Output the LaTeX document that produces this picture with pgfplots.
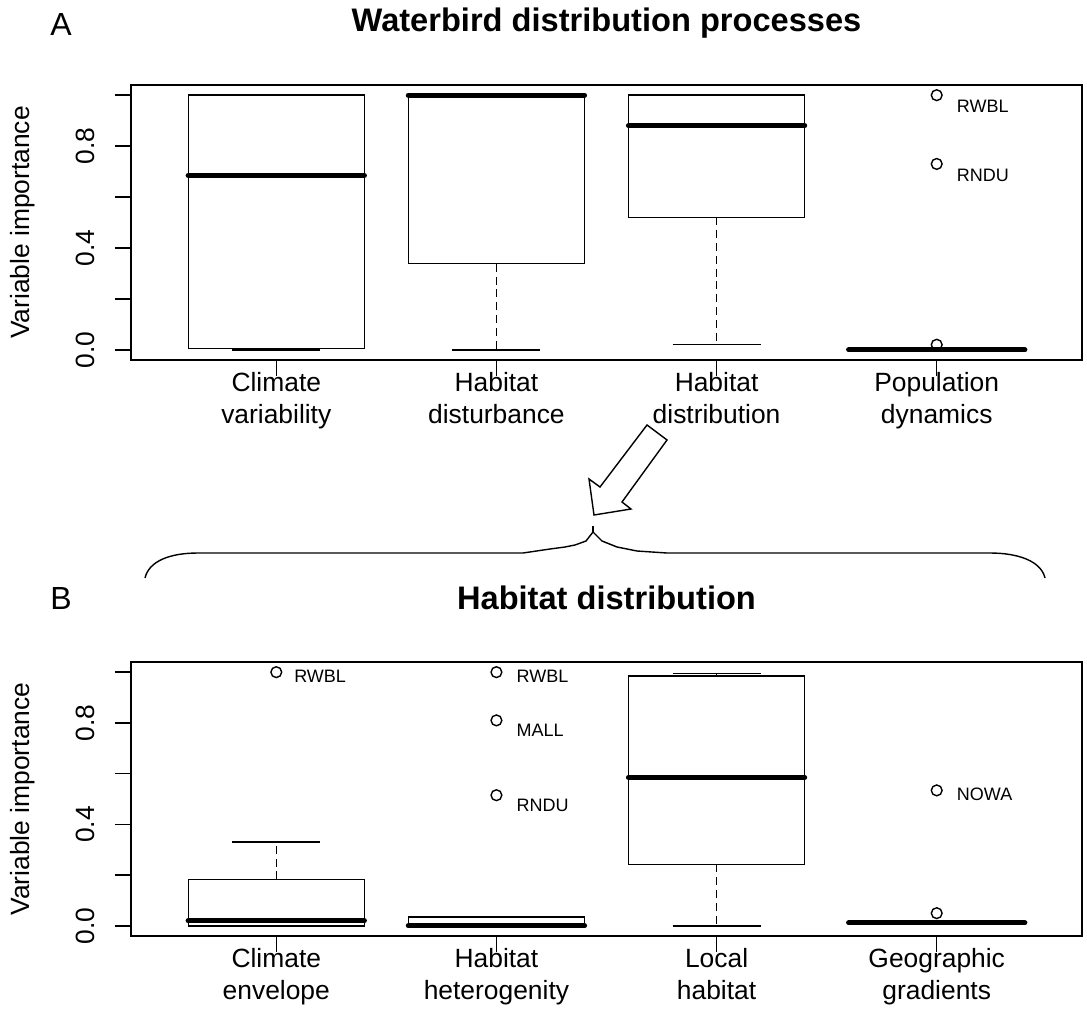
\documentclass[border=0pt]{standalone}
\usepackage{pgfplots}
\pgfplotsset{compat=1.18}
\usepgfplotslibrary{statistics}
\usepackage{fontspec}
\setmainfont{Liberation Sans}

\newcommand{\tickfont}{\fontsize{13.2}{16}\selectfont}
\newcommand{\outfont}{\fontsize{9}{10}\selectfont}

\pgfplotsset{
  rbox/.style={
    black, solid, line width=0.7pt,
    mark=o, mark size=2.7pt, mark options={solid, black, line width=0.7pt},
    boxplot/draw direction=y,
    boxplot/box extend=0.8,
    boxplot/whisker extend=0.4,
    boxplot/every median/.style={line width=2.6pt, line cap=round},
    boxplot/draw/lower whisker/.code={%
      \draw[black, line width=0.7pt, dash pattern=on 4pt off 2.4pt]
        (boxplot cs:\pgfplotsboxplotvalue{lower quartile}) --
        (boxplot cs:\pgfplotsboxplotvalue{lower whisker});
      \draw[black, line width=0.7pt]
        (boxplot whisker cs:\pgfplotsboxplotvalue{lower whisker},0) --
        (boxplot whisker cs:\pgfplotsboxplotvalue{lower whisker},1);
    },
    boxplot/draw/upper whisker/.code={%
      \draw[black, line width=0.7pt, dash pattern=on 4pt off 2.4pt]
        (boxplot cs:\pgfplotsboxplotvalue{upper quartile}) --
        (boxplot cs:\pgfplotsboxplotvalue{upper whisker});
      \draw[black, line width=0.7pt]
        (boxplot whisker cs:\pgfplotsboxplotvalue{upper whisker},0) --
        (boxplot whisker cs:\pgfplotsboxplotvalue{upper whisker},1);
    },
  },
  rpanel/.style={
    anchor=south west,
    scale only axis, width=475.5pt,
    xmin=0.34, xmax=4.66, ymin=-0.04, ymax=1.04,
    xtick={1,2,3,4},
    ytick={0,0.2,0.4,0.6,0.8,1.0},
    yticklabels={0.0,,0.4,,0.8,},
    tick align=outside, xtick pos=bottom, ytick pos=left,
    major tick length=8pt,
    tick style={black, line width=0.7pt},
    axis line style={black, line width=0.7pt},
    xticklabel style={font=\tickfont, align=center, anchor=north, inner sep=0pt, yshift=2pt},
    yticklabel style={font=\tickfont, xshift=-10pt, rotate=90, anchor=base, inner sep=0pt},
    ylabel={Variable importance},
    ylabel style={font=\tickfont, at={(axis description cs:-0.1136,0.5)}, anchor=center, rotate=0},
    clip=false,
  },
}

\begin{document}
\begin{tikzpicture}
\begin{scope}[x=0.5pt, y=-0.5pt]
  \path[use as bounding box] (0,0) rectangle (1087,1017);
  % panel letters and titles
  \node[anchor=base, inner sep=0pt, font=\fontsize{16}{18}\selectfont] at (61,35) {A};
  \node[anchor=base, inner sep=0pt, font=\fontsize{16.3}{18}\selectfont\bfseries] at (606.5,32) {Waterbird distribution processes};
  \node[anchor=base, inner sep=0pt, font=\fontsize{16}{18}\selectfont] at (61,609) {B};
  \node[anchor=base, inner sep=0pt, font=\fontsize{16.3}{18}\selectfont\bfseries] at (606.5,609) {Habitat distribution};
  % arrow
  \draw[line width=0.7pt, fill=white, line join=miter]
    (647,425) -- (600,487) -- (589,479) -- (594,515) -- (631,509) -- (622,502) -- (667,440) -- cycle;
  % brace
  \draw[line width=0.7pt]
    (145,578) .. controls (149,561) and (170,553) .. (198,553) -- (523,553)
    -- (550,549) -- (565,547) -- (575,545) -- (586,541) -- (593,532)
    -- (602,541) -- (617,547) -- (637,551) -- (667,553) -- (990,553)
    .. controls (1018,553) and (1041,561) .. (1045,578);
  \draw[line width=0.7pt] (593,526) -- (593,532);
\end{scope}

% Panel A
\begin{axis}[rpanel, at={(65.5pt,-180pt)}, height=137.5pt,
  xticklabels={{Climate\\variability},{Habitat\\disturbance},{Habitat\\distribution},{Population\\dynamics}}]
  \addplot[rbox, boxplot prepared={draw position=1, lower whisker=0, lower quartile=0.005, median=0.685, upper quartile=1.0, upper whisker=1.0}] coordinates {};
  \addplot[rbox, boxplot prepared={draw position=2, lower whisker=0, lower quartile=0.338, median=1.0, upper quartile=1.0, upper whisker=1.0}] coordinates {};
  \addplot[rbox, boxplot prepared={draw position=3, lower whisker=0.02, lower quartile=0.52, median=0.88, upper quartile=1.0, upper whisker=1.0}] coordinates {};
  \addplot[rbox, boxplot prepared={draw position=4, lower whisker=0, lower quartile=0, median=0, upper quartile=0, upper whisker=0}]
    table[row sep=\\, y index=0] {data\\ 1.0\\ 0.73\\ 0.02\\};
  \node[anchor=west, inner sep=0pt, font=\outfont, yshift=-5.5pt] at (axis cs:4.09,1.0) {RWBL};
  \node[anchor=west, inner sep=0pt, font=\outfont, yshift=-5.5pt] at (axis cs:4.09,0.73) {RNDU};
\end{axis}

% Panel B
\begin{axis}[rpanel, at={(65.5pt,-468pt)}, height=137pt,
  xticklabels={{Climate\\envelope},{Habitat\\heterogenity},{Local\\habitat},{Geographic\\gradients}}]
  \addplot[rbox, boxplot prepared={draw position=1, lower whisker=0, lower quartile=0.0, median=0.02, upper quartile=0.183, upper whisker=0.33}]
    table[row sep=\\, y index=0] {data\\ 1.0\\};
  \addplot[rbox, boxplot prepared={draw position=2, lower whisker=0, lower quartile=0, median=0, upper quartile=0.035, upper whisker=0.035}]
    table[row sep=\\, y index=0] {data\\ 1.0\\ 0.81\\ 0.515\\};
  \addplot[rbox, boxplot prepared={draw position=3, lower whisker=0, lower quartile=0.242, median=0.585, upper quartile=0.985, upper whisker=0.995}] coordinates {};
  \addplot[rbox, boxplot prepared={draw position=4, lower whisker=0.005, lower quartile=0.008, median=0.012, upper quartile=0.015, upper whisker=0.02}]
    table[row sep=\\, y index=0] {data\\ 0.534\\ 0.05\\};
  \node[anchor=west, inner sep=0pt, font=\outfont, yshift=-2pt] at (axis cs:1.08,1.0) {RWBL};
  \node[anchor=west, inner sep=0pt, font=\outfont, yshift=-2pt] at (axis cs:2.09,1.0) {RWBL};
  \node[anchor=west, inner sep=0pt, font=\outfont, yshift=-5pt] at (axis cs:2.09,0.81) {MALL};
  \node[anchor=west, inner sep=0pt, font=\outfont, yshift=-5pt] at (axis cs:2.09,0.515) {RNDU};
  \node[anchor=west, inner sep=0pt, font=\outfont, yshift=-2pt] at (axis cs:4.09,0.534) {NOWA};
\end{axis}
\end{tikzpicture}
\end{document}
